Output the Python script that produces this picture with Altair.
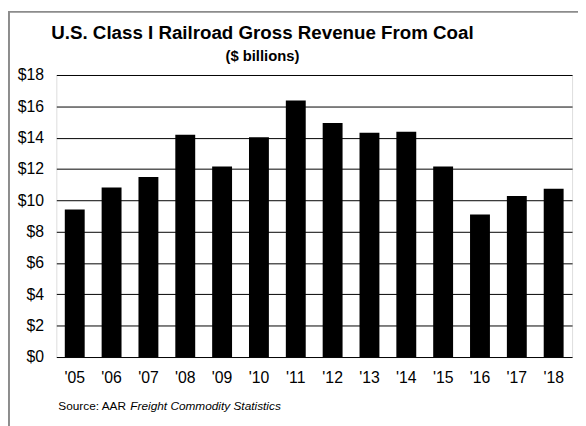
import altair as alt
import pandas as pd

years = ["'05", "'06", "'07", "'08", "'09", "'10", "'11", "'12", "'13", "'14", "'15", "'16", "'17", "'18"]
revenue = [9.42, 10.82, 11.49, 14.19, 12.16, 14.03, 16.38, 14.93, 14.32, 14.38, 12.16, 9.10, 10.28, 10.74]
y_ticks = [0, 2, 4, 6, 8, 10, 12, 14, 16, 18]

title_text = ["U.S. Class I Railroad Gross Revenue From Coal"]
subtitle_text = ["($ billions)"]
source_plain = ["Source: AAR"]
source_italic = ["Freight Commodity Statistics"]

FONT = "Liberation Sans"

df = pd.DataFrame({"year": years, "revenue": revenue})

bars = alt.Chart(df).mark_bar(color="black").encode(
    x=alt.X(
        "year:N",
        sort=years,
        scale=alt.Scale(paddingInner=0.46, paddingOuter=0.23),
        axis=alt.Axis(title=None, labelAngle=0, ticks=False, domain=False, grid=False,
                      labelFontSize=16, labelPadding=13, labelColor="black", labelFont=FONT),
    ),
    y=alt.Y(
        "revenue:Q",
        scale=alt.Scale(domain=[0, 18], nice=False),
        axis=alt.Axis(title=None, values=y_ticks, labelExpr="'$' + datum.value",
                      ticks=False, domain=False, grid=True, gridColor="black",
                      gridOpacity=1, gridWidth=1, labelFontSize=16, labelPadding=13,
                      labelColor="black", labelFont=FONT),
    ),
)

def text_layer(vals, x, y, size, weight="normal", style="normal", align="left"):
    return alt.Chart(pd.DataFrame({"t": vals})).mark_text(
        font=FONT, fontSize=size, fontWeight=weight, fontStyle=style,
        align=align, baseline="alphabetic", color="black",
    ).encode(text="t:N", x=alt.value(x), y=alt.value(y))

title = text_layer(title_text, 209, -37, 19, weight="bold", align="center")
subtitle = text_layer(subtitle_text, 209, -14.5, 15, weight="bold", align="center")
src1 = text_layer(source_plain, 2, 340, 12)
src2 = text_layer(source_italic, 75, 340, 12, style="italic")

frame = alt.Chart(pd.DataFrame({"a": [0]})).mark_rect(
    fillOpacity=0, stroke="#8c8c8c", strokeWidth=2
).encode(x=alt.value(-48), x2=alt.value(600), y=alt.value(-64), y2=alt.value(400))

chart = alt.layer(frame, bars, title, subtitle, src1, src2).properties(
    width=523,
    height=286,
    autosize=alt.AutoSizeParams(type="none"),
    padding={"left": 49, "top": 65, "right": 6, "bottom": 67},
).configure_view(stroke="black", strokeWidth=1).configure(font=FONT, background="white")

chart.save("out.html", embed_options={"renderer": "svg", "actions": False})
